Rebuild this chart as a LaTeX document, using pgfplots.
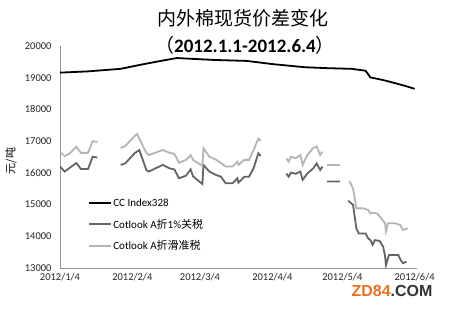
\documentclass[border=0pt]{standalone}
\usepackage{fontspec}
\setmainfont{Carlito}
\newfontfamily\cjk{Noto Sans CJK SC}
\newfontfamily\wm{Liberation Sans}
\usepackage{pgfplots}
\pgfplotsset{compat=1.18}
\definecolor{darkg}{RGB}{100,100,100}
\definecolor{lightg}{RGB}{180,180,180}
\definecolor{axisg}{RGB}{150,150,150}
\definecolor{wmorange}{RGB}{240,110,30}
\begin{document}
\begin{tikzpicture}
\useasboundingbox (0pt,0pt) rectangle (450pt,313pt);
\begin{axis}[at={(60pt,45pt)}, anchor=south west, scale only axis,
  width=357pt, height=222pt,
  xmin=0, xmax=153, ymin=13000, ymax=20000,
  ytick={13000,14000,...,20000},
  scaled y ticks=false,
  xtick={0,31,60,91,121,152},
  xticklabels={2012/1/4,2012/2/4,2012/3/4,2012/4/4,2012/5/4,2012/6/4},
  axis x line*=bottom, axis y line*=left,
  axis line style={axisg, line width=0.8pt, -},
  major tick length=0pt,
  /pgf/number format/assume math mode=true,
  /pgf/number format/1000 sep={},
  tick label style={font=\fontsize{10.5}{12}\selectfont, text=black!85},
  yticklabel style={xshift=-5pt},
  xticklabel style={yshift=-2pt},
  unbounded coords=jump,
  legend style={at={(0.078,0.32)}, anchor=north west, draw=none, fill=none,
    font=\fontsize{11}{13}\selectfont, row sep=8pt, inner sep=0pt,
    nodes={inner sep=1.5pt}},
  legend cell align=left,
  legend image code/.code={\draw[#1] (0pt,0pt) -- (22pt,0pt);},
]
\addplot[black, line width=1.8pt, no markers] table {
x y
0 19160
12 19200
26 19280
36 19430
44 19540
50 19620
58 19590
66 19560
80 19530
91 19430
105 19330
115 19300
125 19280
131 19220
133 19010
137 18950
141 18880
148 18740
152 18650
};
\addlegendentry{CC Index328}
\addplot[darkg, line width=1.8pt, no markers] table {
x y
0 16200
2 16040
4 16150
7 16310
9 16120
12 16120
14 16510
16 16480
16.5 nan
26 16250
28 16300
32 16620
34 16720
37 16090
38 16040
44 16250
47 16140
49 16110
51 15830
54 15910
56 16110
57 15890
61 15650
61.5 16250
64 16040
67 15930
69 15880
71 15670
74 15670
76 15830
76.5 15690
79 15880
81 15880
83 16150
85 16620
86 16530
90 nan
97 15980
98 15880
99 16010
101 15970
103 16040
104 15780
106 15980
108.5 16140
110 16300
111.5 16090
112.5 16200
113 nan
114.5 15730
120 15730
121 nan
123.5 15120
125.6 14990
127 14250
128 14090
131 14090
132 13940
133 13880
134 13730
135 13880
137 13850
138.5 13670
139.3 13380
139.7 13090
141 13410
145 13410
146 13250
147 13150
148.5 13200
};
\addlegendentry{Cotlook A{\cjk 折}1\%{\cjk 关税}}
\addplot[lightg, line width=1.8pt, no markers] table {
x y
0 16660
2 16530
4 16600
7 16820
9 16630
12 16630
14 17000
16 16970
16.5 nan
26 16780
28 16850
32 17160
33 17230
37 16630
38 16560
44 16720
47 16630
49 16600
51 16320
54 16410
56 16560
57 16410
61 16220
61.5 16780
64 16510
67 16410
69 16310
71 16200
74 16200
76 16350
76.5 16250
79 16410
81 16410
83 16720
85 17090
86 17000
90 nan
97 16460
98 16350
99 16510
101 16460
103 16560
104 16250
106 16560
108.5 16780
110 16830
111.5 16560
112.5 16670
113 nan
114.5 16250
120 16250
121 nan
124 15740
125.6 15510
127 14880
130 14880
132 14830
133 14720
134 14740
136 14720
137.6 14570
139.3 14410
139.7 14150
140.6 14410
143.6 14410
145.7 14360
147 14200
149 14250
};
\addlegendentry{Cotlook A{\cjk 折滑准税}}
\end{axis}
\node at (243pt,295pt) {\cjk\fontsize{19}{19}\selectfont 内外棉现货价差变化};
\node at (245pt,268pt) {\fontsize{19}{19}\selectfont{\cjk （}\textbf{2012.1.1-2012.6.4}{\cjk ）}};
\node[rotate=90] at (11pt,152pt) {\cjk\fontsize{11}{11}\selectfont 元/吨};
\node at (392pt,22pt) {\wm\bfseries\fontsize{16}{16}\selectfont\textcolor{wmorange}{ZD84}\textcolor{black!80}{.COM}};
\end{tikzpicture}
\end{document}
